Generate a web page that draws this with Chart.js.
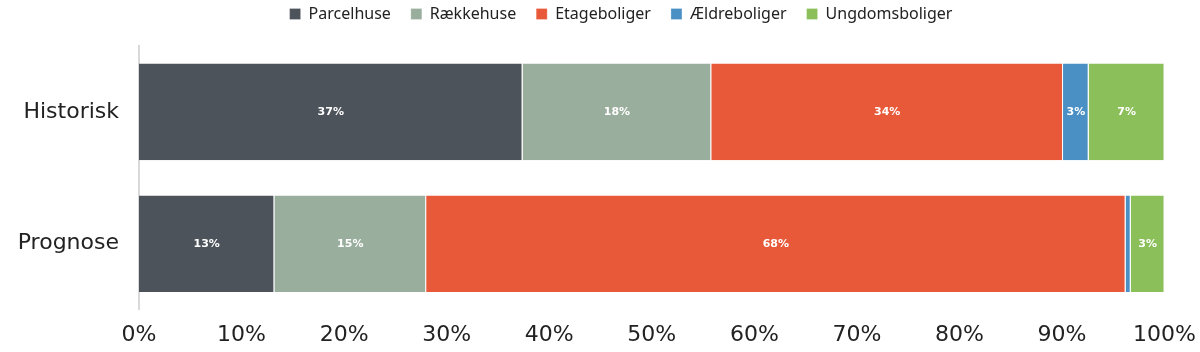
<!DOCTYPE html>
<html>
<head>
<meta charset="utf-8">
<script src="https://cdn.jsdelivr.net/npm/chart.js@4/dist/chart.umd.min.js"></script>
<style>
  html, body { margin: 0; padding: 0; background: #fff; }
  #wrap { width: 1200px; height: 352px; }
</style>
</head>
<body>
<div id="wrap"><canvas id="c" width="1200" height="352"></canvas></div>
<script>
const categories = ["Historisk", "Prognose"];
const parcelhuse = [37.4, 13.2];
const raekkehuse = [18.4, 14.8];
const etageboliger = [34.3, 68.2];
const aeldreboliger = [2.5, 0.5];
const ungdomsboliger = [7.4, 3.3];
const xTicks = [0, 10, 20, 30, 40, 50, 60, 70, 80, 90, 100];

// writes the percent in the middle of each segment
const segmentLabels = {
  id: "segmentLabels",
  afterDatasetsDraw(chart) {
    const ctx = chart.ctx;
    ctx.save();
    ctx.font = "bold 11px 'DejaVu Sans', Verdana, sans-serif";
    ctx.fillStyle = "#ffffff";
    ctx.textAlign = "center";
    ctx.textBaseline = "middle";
    chart.data.datasets.forEach((ds, i) => {
      chart.getDatasetMeta(i).data.forEach((bar, j) => {
        const v = ds.data[j];
        if (v < 1) return;
        const x = (bar.x + bar.base) / 2;
        ctx.fillText(Math.round(v) + "%", x, bar.y);
      });
    });
    ctx.restore();
  },
};

// a bit more room under the legend, and legend centred at x=621
const legendTweak = {
  id: "legendTweak",
  beforeInit(chart) {
    const fit = chart.legend.fit;
    chart.legend.fit = function () {
      fit.bind(chart.legend)();
      this.height += 14;
    };
  },
  afterLayout(chart) {
    const lg = chart.legend;
    const shift = 621 - (lg.left + lg.right) / 2;
    lg.left += shift;
    lg.right += shift;
  },
};

const ds = (label, data, color) => ({
  label: label,
  data: data,
  backgroundColor: color,
  borderColor: "#ffffff",
  borderWidth: { left: 0, right: 1, top: 0, bottom: 0 },
  borderSkipped: false,
  barPercentage: 1,
  categoryPercentage: 0.733,
});

new Chart(document.getElementById("c"), {
  type: "bar",
  data: {
    labels: categories,
    datasets: [
      ds("Parcelhuse", parcelhuse, "#4d535a"),
      ds("Rækkehuse", raekkehuse, "#9aae9e"),
      ds("Etageboliger", etageboliger, "#e8593a"),
      ds("Ældreboliger", aeldreboliger, "#4a90c4"),
      ds("Ungdomsboliger", ungdomsboliger, "#8bbf5a"),
    ],
  },
  options: {
    indexAxis: "y",
    responsive: false,
    animation: false,
    layout: { padding: { left: 0, right: 28, top: -14, bottom: 0 } },
    plugins: {
      legend: {
        display: true,
        position: "top",
        labels: {
          boxWidth: 11,
          boxHeight: 11,
          padding: 20,
          color: "#222",
          font: { family: "'Noto Sans', sans-serif", size: 16 },
        },
      },
      tooltip: { enabled: false },
    },
    scales: {
      x: {
        stacked: true,
        min: 0,
        max: 100,
        grid: { display: false },
        border: { display: false },
        afterBuildTicks: (axis) => {
          axis.ticks = xTicks.map((v) => ({ value: v }));
        },
        ticks: {
          padding: 4,
          color: "#222",
          font: { family: "'DejaVu Sans', Verdana, sans-serif", size: 22 },
          callback: (v) => v + "%",
        },
      },
      y: {
        stacked: true,
        grid: { display: false },
        border: { display: true, color: "#d9d9d9", width: 2 },
        afterFit: (axis) => {
          axis.width = 139;
        },
        ticks: {
          padding: 12,
          color: "#222",
          font: { family: "'DejaVu Sans', Verdana, sans-serif", size: 22 },
        },
      },
    },
  },
  plugins: [legendTweak, segmentLabels],
});
</script>
</body>
</html>
